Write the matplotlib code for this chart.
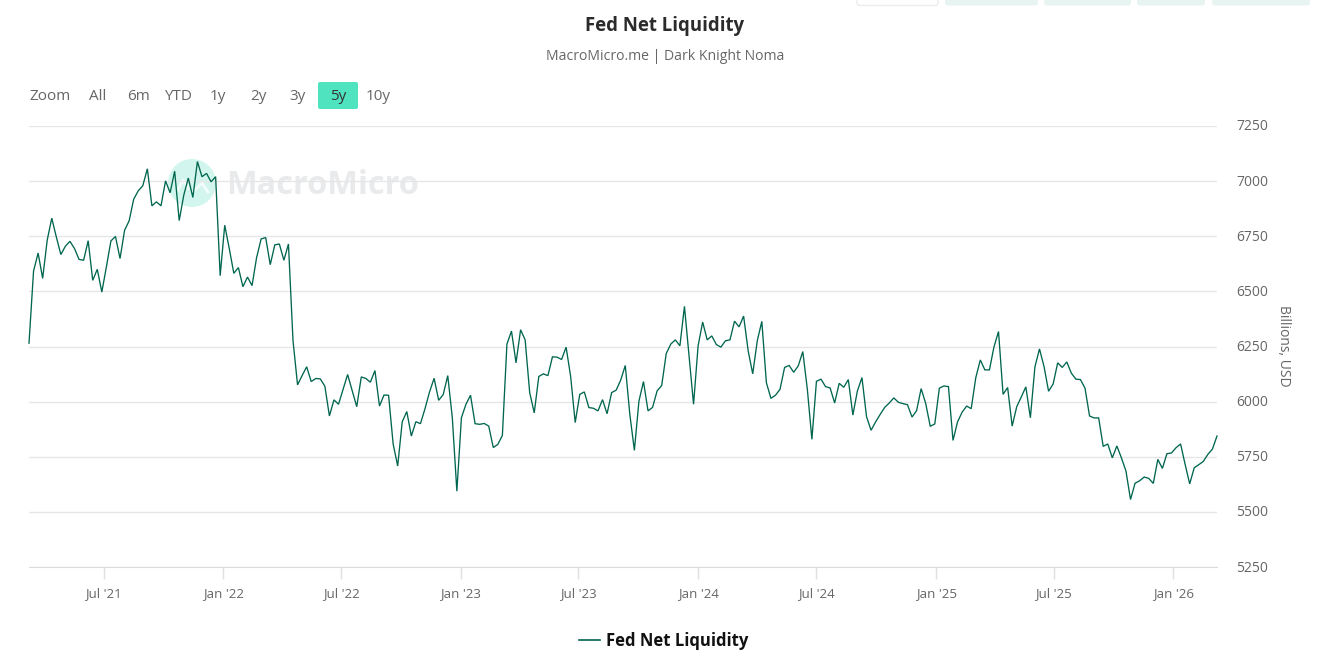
import matplotlib
matplotlib.use("Agg")
import matplotlib.pyplot as plt
import matplotlib.dates as mdates
from matplotlib.patches import FancyBboxPatch, Circle
from matplotlib.lines import Line2D
from matplotlib.transforms import ScaledTranslation
import pandas as pd

W, H = 1323, 665

# Weekly Fed net liquidity, billions of USD
liquidity = [
    6265, 6592, 6674, 6559, 6732, 6832, 6747, 6667, 6705, 6727,
    6694, 6645, 6641, 6730, 6550, 6600, 6497, 6611, 6729, 6749,
    6649, 6777, 6820, 6918, 6956, 6979, 7056, 6888, 6906, 6888,
    7001, 6947, 7045, 6821, 6936, 7014, 6926, 7089, 7020, 7035,
    6997, 7020, 6571, 6800, 6694, 6582, 6608, 6521, 6565, 6526,
    6653, 6738, 6744, 6621, 6711, 6715, 6641, 6715, 6277, 6076,
    6118, 6158, 6091, 6105, 6103, 6070, 5935, 6008, 5988, 6056,
    6123, 6050, 5977, 6112, 6105, 6088, 6141, 5980, 6030, 6029,
    5808, 5708, 5909, 5955, 5844, 5909, 5900, 5968, 6044, 6106,
    6006, 6032, 6118, 5927, 5594, 5927, 5988, 6029, 5900, 5897,
    5901, 5889, 5792, 5806, 5847, 6261, 6320, 6176, 6326, 6280,
    6041, 5949, 6114, 6126, 6118, 6203, 6202, 6191, 6247, 6114,
    5905, 6033, 6044, 5973, 5970, 5958, 6009, 5945, 6041, 6052,
    6098, 6164, 5942, 5779, 6002, 6091, 5958, 5974, 6049, 6073,
    6218, 6261, 6280, 6253, 6432, 6208, 5988, 6253, 6361, 6280,
    6298, 6259, 6247, 6276, 6280, 6365, 6339, 6388, 6230, 6126,
    6276, 6364, 6086, 6015, 6029, 6056, 6155, 6164, 6133, 6162,
    6227, 6056, 5829, 6092, 6102, 6068, 6062, 5994, 6083, 6065,
    6100, 5939, 6049, 6109, 5932, 5870, 5908, 5942, 5974, 5994,
    6017, 5997, 5991, 5986, 5930, 5959, 6059, 5992, 5888, 5899,
    6061, 6071, 6068, 5824, 5908, 5952, 5980, 5968, 6108, 6189,
    6144, 6144, 6248, 6318, 6033, 6064, 5889, 5977, 6021, 6067,
    5927, 6158, 6239, 6159, 6047, 6080, 6176, 6155, 6180, 6129,
    6102, 6100, 6061, 5935, 5926, 5926, 5797, 5808, 5745, 5799,
    5745, 5685, 5556, 5630, 5641, 5658, 5652, 5629, 5738, 5697,
    5764, 5767, 5791, 5808, 5715, 5627, 5700, 5714, 5729, 5761,
    5785, 5844,
]
y_ticks = [5250, 5500, 5750, 6000, 6250, 6500, 6750, 7000, 7250]
x_tick_dates = ["2021-07-01", "2022-01-01", "2022-07-01", "2023-01-01", "2023-07-01",
                "2024-01-01", "2024-07-01", "2025-01-01", "2025-07-01", "2026-01-01"]
x_tick_labels = ["Jul '21", "Jan '22", "Jul '22", "Jan '23", "Jul '23",
                 "Jan '24", "Jul '24", "Jan '25", "Jul '25", "Jan '26"]
range_buttons = ["All", "6m", "YTD", "1y", "2y", "3y", "5y", "10y"]
button_centres = [98, 138, 178, 218, 258, 298, 338, 378]

dates = pd.date_range(end="2026-03-09", periods=len(liquidity), freq="7D")

plt.rcParams["font.family"] = "Open Sans"
GREY = "#666666"

fig = plt.figure(figsize=(W / 100, H / 100), dpi=100, facecolor="white")

# Full-figure overlay in pixel coordinates for the page furniture
page = fig.add_axes([0, 0, 1, 1], zorder=0)
page.set_xlim(0, W)
page.set_ylim(H, 0)
page.axis("off")

# Toolbar buttons cut off by the top edge
for x0, x1, face, edge in [(857, 938, "white", "#ececec"), (945, 1038, "#e7f4f1", "none"),
                           (1044, 1131, "#e7f4f1", "none"), (1137, 1205, "#e7f4f1", "none"),
                           (1212, 1310, "#e7f4f1", "none")]:
    page.add_patch(FancyBboxPatch((x0 + 3, -10), x1 - x0 - 6, 12.5,
                                  boxstyle="round,pad=3,rounding_size=3",
                                  fc=face, ec=edge, lw=1))

page.text(665, 26, "Fed Net Liquidity", ha="center", va="center",
          fontsize=13.4, fontweight="bold", color="#2b2b2b")
page.text(665, 57, "MacroMicro.me | Dark Knight Noma", ha="center", va="center",
          fontsize=10.1, color=GREY)

# Range selector
page.text(50, 97, "Zoom", ha="center", va="center", fontsize=11, color=GREY)
page.add_patch(FancyBboxPatch((320, 84), 36, 23, boxstyle="round,pad=2,rounding_size=2",
                              fc="#4fe3bf", ec="none"))
for label, xc in zip(range_buttons, button_centres):
    page.text(xc, 97, label, ha="center", va="center", fontsize=11,
              color="#333333" if label == "5y" else GREY)

# Watermark behind the plot
page.add_patch(Circle((192, 183), 24, fc="#d2f6ed", ec="none"))
page.plot([178, 183, 188], [190, 180, 188], color="white", lw=2, alpha=0.75)
page.plot([193, 202, 208], [192, 183, 192], color="white", lw=2, alpha=0.75)
page.text(226, 185, "MacroMicro", ha="left", va="center", fontsize=23.4,
          fontweight="bold", color="#e8eaec")

# Plot area
left, right, top, bottom = 29, 1217, 126, 567
ax = fig.add_axes([left / W, 1 - bottom / H, (right - left) / W, (bottom - top) / H], zorder=1)
ax.patch.set_alpha(0)
ax.plot(dates, liquidity, color="#00664f", lw=0.95, solid_joinstyle="miter", clip_on=False)
ax.set_xlim(dates[0], dates[-1])
ax.set_ylim(5250, 7250)

ax.yaxis.tick_right()
ax.set_yticks(y_ticks)
ax.set_yticklabels([str(v) for v in y_ticks])
ax.set_xticks(mdates.date2num(pd.to_datetime(x_tick_dates)))
ax.set_xticklabels(x_tick_labels)
ax.tick_params(axis="y", length=0, pad=14, labelsize=10, labelcolor=GREY)
ax.tick_params(axis="x", length=8.6, width=1, color="#e0e0e0", pad=5.5, labelsize=9.5, labelcolor=GREY)
for tick_label in ax.get_yticklabels():
    tick_label.set_transform(tick_label.get_transform()
                             + ScaledTranslation(0, 1 / 100, fig.dpi_scale_trans))
ax.grid(axis="y", color="#e6e6e6", lw=1)
ax.set_axisbelow(True)
for side in ["top", "left", "right"]:
    ax.spines[side].set_visible(False)
ax.spines["bottom"].set_color("#dcdcdc")

page.text(1284, 346, "Billions, USD", rotation=-90, ha="center", va="center",
          fontsize=10, color=GREY)

# Legend
page.add_line(Line2D([579, 600], [640, 640], color="#00664f", lw=1.2))
page.text(606, 641, "Fed Net Liquidity", ha="left", va="center",
          fontsize=12, fontweight="bold", color="#111111")

fig.savefig("out.png", dpi=100)
